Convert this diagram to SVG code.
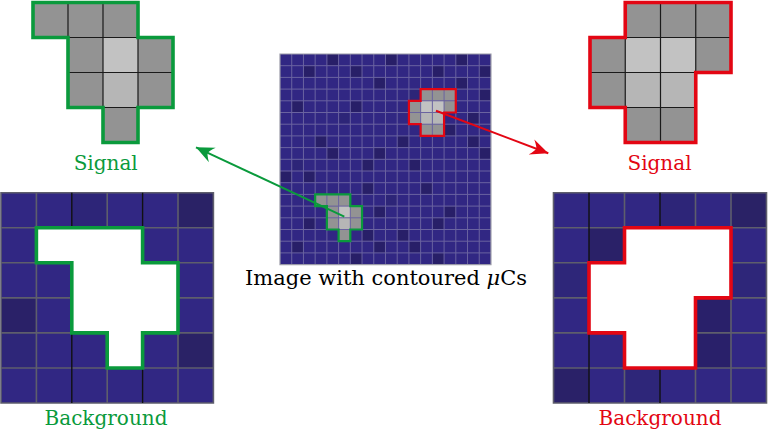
<svg xmlns="http://www.w3.org/2000/svg" width="768" height="431" viewBox="0 0 768 431">
<defs>
<style>
.g{fill:#939393}
.l1{fill:#c2c2c2}
.l2{fill:#b6b6b6}
.b{fill:#312783}
.d{fill:#281f68}
.m{fill:#2d2578}
.gl{fill:none;stroke:#1a1a1a;stroke-width:1.2;vector-effect:non-scaling-stroke}
.cgl{fill:none;stroke:#6a63a0;stroke-width:1;vector-effect:non-scaling-stroke}
.pgl{fill:none;stroke:#5e5e6c;stroke-width:1.6;vector-effect:non-scaling-stroke}
.pgk{fill:none;stroke:#111;stroke-width:1.4;vector-effect:non-scaling-stroke}
.grn{fill:none;stroke:#0a9a3c;stroke-linejoin:miter;vector-effect:non-scaling-stroke}
.red{fill:none;stroke:#e30613;stroke-linejoin:miter;vector-effect:non-scaling-stroke}
.wh{fill:#fff}
text{font-family:"DejaVu Serif","Liberation Serif",serif;font-size:20px;text-anchor:middle}
</style>
<marker id="ag" viewBox="-19 -9 20 18" markerWidth="20" markerHeight="18" refX="0" refY="0" orient="auto" markerUnits="userSpaceOnUse">
<path d="M0,0 L-18,-8 Q-13,-2 -13,0 Q-13,2 -18,8 Z" fill="#0a9a3c"/>
</marker>
<marker id="ar" viewBox="-19 -9 20 18" markerWidth="20" markerHeight="18" refX="0" refY="0" orient="auto" markerUnits="userSpaceOnUse">
<path d="M0,0 L-18,-8 Q-13,-2 -13,0 Q-13,2 -18,8 Z" fill="#e30613"/>
</marker>
</defs>

<!-- Top-left green signal -->
<g id="signal-green" transform="translate(33,2.5) scale(35,35)">
<rect class="g" x="0" y="0" width="3" height="1"/>
<rect class="g" x="1" y="1" width="3" height="2"/>
<rect class="g" x="2" y="3" width="1" height="1"/>
<rect class="l1" x="2" y="1" width="1" height="1"/>
<rect class="l2" x="2" y="2" width="1" height="1"/>
<path class="gl" d="M1,0V3 M2,0V4 M3,1V3 M1,1H4 M1,2H4 M2,3H3"/>
<path class="grn" style="stroke-width:3.6" d="M0,0H3V1H4V3H3V4H2V3H1V1H0Z"/>
</g>

<!-- Top-right red signal -->
<g id="signal-red" transform="translate(590,2.5) scale(35.25,35)">
<rect class="g" x="1" y="0" width="3" height="1"/>
<rect class="g" x="0" y="1" width="4" height="1"/>
<rect class="g" x="0" y="2" width="3" height="1"/>
<rect class="g" x="1" y="3" width="2" height="1"/>
<rect class="l1" x="1" y="1" width="2" height="1"/>
<rect class="l2" x="1" y="2" width="2" height="1"/>
<path class="gl" d="M1,1V3 M2,0V4 M3,0V2 M1,1H4 M0,2H3 M1,3H3"/>
<path class="red" style="stroke-width:3.6" d="M1,0H4V2H3V4H1V3H0V1H1Z"/>
</g>

<!-- Center image -->
<g id="image" transform="translate(280,54) scale(11.72,11.7)">
<rect class="b" x="0" y="0" width="18" height="18"/>
<g class="d">
<rect x="4" y="0" width="1" height="1"/><rect x="9" y="0" width="1" height="1"/><rect x="15" y="0" width="1" height="1"/>
<rect x="2" y="1" width="1" height="1"/><rect x="6" y="1" width="1" height="1"/><rect x="13" y="1" width="1" height="1"/><rect x="17" y="1" width="1" height="1"/>
<rect x="8" y="2" width="1" height="1"/><rect x="15" y="2" width="1" height="1"/>
<rect x="17" y="3" width="1" height="1"/>
<rect x="1" y="4" width="1" height="1"/><rect x="6" y="4" width="1" height="1"/>
<rect x="16" y="5" width="1" height="1"/>
<rect x="14" y="6" width="1" height="1"/>
<rect x="3" y="7" width="1" height="1"/><rect x="10" y="7" width="1" height="1"/><rect x="16" y="7" width="1" height="1"/>
<rect x="4" y="8" width="1" height="1"/><rect x="8" y="8" width="1" height="1"/><rect x="17" y="8" width="1" height="1"/>
<rect x="7" y="9" width="1" height="1"/><rect x="11" y="9" width="1" height="1"/>
<rect x="0" y="10" width="1" height="1"/><rect x="2" y="10" width="1" height="1"/>
<rect x="7" y="11" width="1" height="1"/><rect x="12" y="11" width="1" height="1"/>
<rect x="8" y="13" width="1" height="1"/><rect x="14" y="13" width="1" height="1"/>
<rect x="2" y="14" width="1" height="1"/><rect x="13" y="14" width="1" height="1"/>
<rect x="7" y="15" width="1" height="1"/><rect x="10" y="15" width="1" height="1"/>
<rect x="1" y="16" width="1" height="1"/><rect x="8" y="16" width="1" height="1"/><rect x="11" y="16" width="1" height="1"/>
<rect x="6" y="17" width="1" height="1"/><rect x="13" y="17" width="1" height="1"/>
</g>
<g class="m">
<rect x="11" y="3" width="1" height="1"/><rect x="1" y="9" width="1" height="1"/><rect x="5" y="5" width="1" height="1"/><rect x="9" y="12" width="1" height="1"/>
</g>
<g class="g">
<rect x="3" y="12" width="3" height="1"/><rect x="4" y="13" width="3" height="2"/><rect x="5" y="15" width="1" height="1"/>
<rect x="12" y="3" width="3" height="1"/><rect x="11" y="4" width="4" height="1"/><rect x="11" y="5" width="3" height="1"/><rect x="12" y="6" width="2" height="1"/>
</g>
<rect class="l1" x="5" y="13" width="1" height="1"/><rect class="l2" x="5" y="14" width="1" height="1"/>
<rect class="l1" x="12" y="4" width="2" height="1"/><rect class="l2" x="12" y="5" width="2" height="1"/>
<path class="cgl" d="M1,0V18M2,0V18M3,0V18M4,0V18M5,0V18M6,0V18M7,0V18M8,0V18M9,0V18M10,0V18M11,0V18M12,0V18M13,0V18M14,0V18M15,0V18M16,0V18M17,0V18M0,1H18M0,2H18M0,3H18M0,4H18M0,5H18M0,6H18M0,7H18M0,8H18M0,9H18M0,10H18M0,11H18M0,12H18M0,13H18M0,14H18M0,15H18M0,16H18M0,17H18"/>
<rect x="0" y="0" width="18" height="18" fill="none" stroke="#9a9aa8" stroke-width="1.2" vector-effect="non-scaling-stroke"/>
<path class="grn" style="stroke-width:2.2" d="M3,12H6V13H7V15H6V16H5V15H4V13H3Z"/>
<path class="red" style="stroke-width:2.2" d="M12,3H15V5H14V7H12V6H11V4H12Z"/>
</g>

<!-- Bottom-left green background -->
<g id="background-green" transform="translate(1,192.7) scale(35.4,35.05)">
<rect class="b" x="0" y="0" width="6" height="6"/>
<rect fill="#2d2578" x="2" y="0" width="1" height="1"/>
<rect fill="#2a2266" x="5" y="0" width="1" height="1"/>
<rect fill="#2a2168" x="0" y="3" width="1" height="1"/>
<rect fill="#2e2679" x="0" y="4" width="1" height="1"/>
<rect fill="#2a2266" x="5" y="4" width="1" height="1"/>
<path class="pgl" d="M0,0H6V6H0Z M1,0V6 M3,0V6 M5,0V6 M0,1H6 M0,2H6 M0,3H6 M0,4H6 M0,5H6"/>
<path class="pgk" d="M2,0V6 M4,0V6"/>
<path class="wh" d="M1,1H4V2H5V4H4V5H3V4H2V2H1Z"/>
<path class="grn" style="stroke-width:3.6" d="M1,1H4V2H5V4H4V5H3V4H2V2H1Z"/>
</g>

<!-- Bottom-right red background -->
<g id="background-red" transform="translate(553.5,192.7) scale(35.5,35.05)">
<rect class="b" x="0" y="0" width="6" height="6"/>
<rect fill="#2d2578" x="3" y="0" width="1" height="1"/>
<rect fill="#2a2266" x="5" y="0" width="1" height="1"/>
<rect fill="#2a2168" x="1" y="1" width="1" height="1"/>
<rect fill="#2e2679" x="0" y="2" width="1" height="1"/>
<rect fill="#2e2679" x="5" y="2" width="1" height="1"/>
<rect fill="#29206a" x="4" y="3" width="1" height="2"/>
<rect fill="#2a2168" x="0" y="5" width="1" height="1"/>
<rect fill="#2e2679" x="2" y="5" width="1" height="1"/>
<path class="pgl" d="M0,0H6V6H0Z M2,0V6 M4,0V6 M5,0V6 M0,1H6 M0,2H6 M0,3H6 M0,4H6 M0,5H6"/>
<path class="pgk" d="M1,0V6 M3,0V6"/>
<path class="wh" d="M2,1H5V3H4V5H2V4H1V2H2Z"/>
<path class="red" style="stroke-width:3.6" d="M2,1H5V3H4V5H2V4H1V2H2Z"/>
</g>

<!-- Connectors -->
<g id="connectors">
<line x1="344.3" y1="216.7" x2="196" y2="147.3" stroke="#0a9a3c" stroke-width="2" marker-end="url(#ag)"/>
<line x1="436" y1="110.7" x2="548.3" y2="153.3" stroke="#e30613" stroke-width="2" marker-end="url(#ar)"/>
</g>

<!-- Labels -->
<g id="labels">
<text x="105.7" y="170" fill="#0a9a3c">Signal</text>
<text x="659.5" y="170" fill="#e30613">Signal</text>
<text x="106" y="425" fill="#0a9a3c">Background</text>
<text x="660" y="425" fill="#e30613">Background</text>
<text x="386" y="285" fill="#000" font-size="20.5" textLength="282" lengthAdjust="spacingAndGlyphs">Image with contoured <tspan font-style="italic">μ</tspan>Cs</text>
</g>
</svg>
